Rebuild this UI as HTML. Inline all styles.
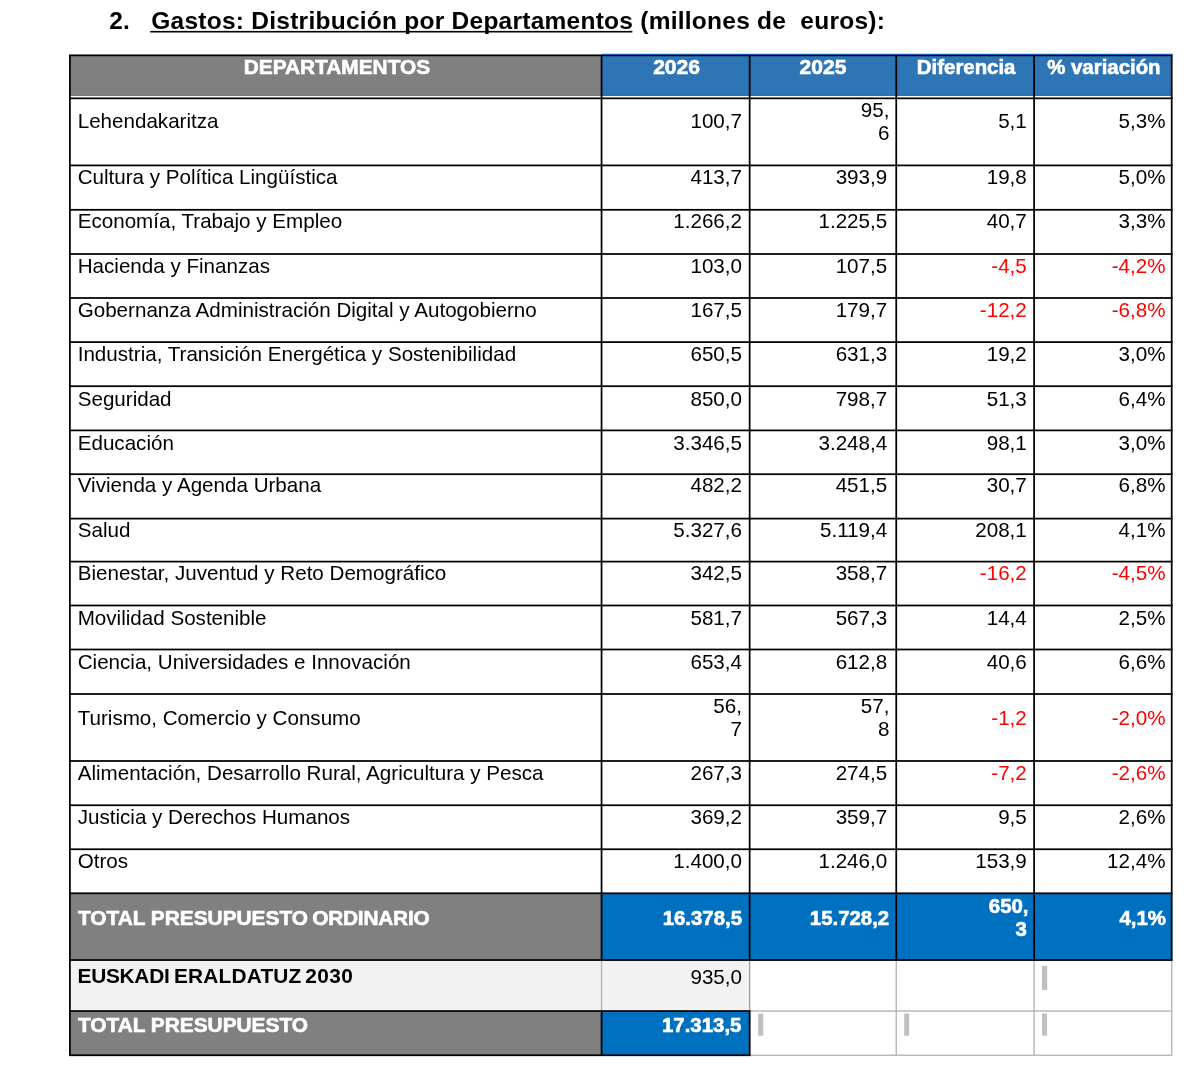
<!DOCTYPE html>
<html lang="es"><head><meta charset="utf-8"><title>Gastos: Distribución por Departamentos</title>
<style>html,body{margin:0;padding:0;background:#fff}svg{display:block;will-change:transform}text{white-space:pre;font-family:"Liberation Sans",sans-serif;font-size:20.6px;fill:#000}.b{font-weight:bold;font-size:20.85px}.n{font-size:20.4px}.y{font-size:21.1px}.w{fill:#fff;stroke:#fff;stroke-width:.6px}.r{fill:#f00}.e{text-anchor:end}.m{text-anchor:middle}.t{font-size:24.5px;font-weight:bold;letter-spacing:.25px}</style></head><body>
<svg width="1200" height="1068" viewBox="0 0 1200 1068">
<rect width="1200" height="1068" fill="#fff"/>
<rect x="69.90" y="55.35" width="531.65" height="40.50" fill="#5e5e5e"/>
<rect x="69.90" y="55.35" width="531.65" height="39.75" fill="#808080"/>
<rect x="601.55" y="54.00" width="570.15" height="1.35" fill="#1f6fc0"/>
<rect x="601.55" y="55.35" width="570.15" height="40.50" fill="#0d52b0"/>
<rect x="601.55" y="55.35" width="570.15" height="39.55" fill="#2e75b6"/>
<rect x="69.90" y="893.30" width="531.65" height="66.75" fill="#808080"/>
<rect x="601.55" y="893.30" width="570.15" height="66.75" fill="#0070c0"/>
<rect x="69.90" y="960.05" width="679.75" height="51.00" fill="#f2f2f2"/>
<rect x="69.90" y="1011.05" width="531.65" height="44.20" fill="#808080"/>
<rect x="601.55" y="1011.05" width="148.10" height="44.20" fill="#0070c0"/>
<rect x="748.98" y="960.05" width="1.35" height="95.20" fill="#a0a0a0"/>
<rect x="895.58" y="960.05" width="1.35" height="95.20" fill="#b4b4b4"/>
<rect x="1033.42" y="960.05" width="1.35" height="95.20" fill="#b4b4b4"/>
<rect x="1171.03" y="960.05" width="1.35" height="95.20" fill="#b4b4b4"/>
<rect x="600.88" y="960.05" width="1.35" height="51.00" fill="#b4b4b4"/>
<rect x="749.65" y="1010.38" width="422.65" height="1.35" fill="#b4b4b4"/>
<rect x="749.65" y="1054.58" width="422.65" height="1.35" fill="#b4b4b4"/>
<rect x="1042.00" y="965.90" width="5.20" height="24.00" fill="#bfbfbf"/>
<rect x="758.20" y="1013.60" width="5.00" height="22.10" fill="#bfbfbf"/>
<rect x="904.20" y="1013.60" width="5.00" height="22.10" fill="#bfbfbf"/>
<rect x="1042.00" y="1013.60" width="5.00" height="22.10" fill="#bfbfbf"/>
<rect x="69.03" y="54.48" width="1103.55" height="1.75" fill="#000"/>
<rect x="601.85" y="53.80" width="570.73" height="1.20" fill="#0d5cb6"/>
<rect x="69.03" y="97.47" width="1103.55" height="1.75" fill="#000"/>
<rect x="69.03" y="164.53" width="1103.55" height="1.75" fill="#000"/>
<rect x="69.03" y="208.93" width="1103.55" height="1.75" fill="#000"/>
<rect x="69.03" y="253.12" width="1103.55" height="1.75" fill="#000"/>
<rect x="69.03" y="297.12" width="1103.55" height="1.75" fill="#000"/>
<rect x="69.03" y="341.23" width="1103.55" height="1.75" fill="#000"/>
<rect x="69.03" y="385.32" width="1103.55" height="1.75" fill="#000"/>
<rect x="69.03" y="429.52" width="1103.55" height="1.75" fill="#000"/>
<rect x="69.03" y="473.32" width="1103.55" height="1.75" fill="#000"/>
<rect x="69.03" y="517.73" width="1103.55" height="1.75" fill="#000"/>
<rect x="69.03" y="560.73" width="1103.55" height="1.75" fill="#000"/>
<rect x="69.03" y="604.62" width="1103.55" height="1.75" fill="#000"/>
<rect x="69.03" y="648.62" width="1103.55" height="1.75" fill="#000"/>
<rect x="69.03" y="693.12" width="1103.55" height="1.75" fill="#000"/>
<rect x="69.03" y="760.12" width="1103.55" height="1.75" fill="#000"/>
<rect x="69.03" y="804.38" width="1103.55" height="1.75" fill="#000"/>
<rect x="69.03" y="848.38" width="1103.55" height="1.75" fill="#000"/>
<rect x="69.03" y="892.42" width="1103.55" height="1.75" fill="#000"/>
<rect x="69.03" y="959.17" width="1103.55" height="1.75" fill="#000"/>
<rect x="69.03" y="1010.17" width="681.50" height="1.75" fill="#000"/>
<rect x="69.03" y="1054.38" width="681.50" height="1.75" fill="#000"/>
<rect x="69.03" y="55.35" width="1.75" height="999.90" fill="#000"/>
<rect x="600.67" y="55.35" width="1.75" height="904.70" fill="#000"/>
<rect x="600.67" y="1011.05" width="1.75" height="44.20" fill="#000"/>
<rect x="748.77" y="55.35" width="1.75" height="904.70" fill="#000"/>
<rect x="748.77" y="1011.05" width="1.75" height="44.20" fill="#000"/>
<rect x="895.38" y="55.35" width="1.75" height="904.70" fill="#000"/>
<rect x="1033.22" y="55.35" width="1.75" height="904.70" fill="#000"/>
<rect x="1170.83" y="55.35" width="1.75" height="904.70" fill="#000"/>
<text x="109.20" y="29.10" class="t">2.</text>
<text x="151.3" y="29.1" class="t">Gastos: Distribución por Departamentos (millones de  euros):</text>
<rect x="150.20" y="30.90" width="482.20" height="1.60" fill="#000"/>
<text x="336.92" y="73.50" class="b w m">DEPARTAMENTOS</text>
<text x="676.60" y="73.50" class="b w m y">2026</text>
<text x="822.95" y="73.50" class="b w m y">2025</text>
<text x="966.17" y="73.50" class="b w m n">Diferencia</text>
<text x="1103.90" y="73.50" class="b w m n">% variación</text>
<text x="77.70" y="128.30">Lehendakaritza</text>
<text x="742.00" y="127.85" class="e">100,7</text>
<text x="889.40" y="117.35" class="e">95,</text>
<text x="889.40" y="140.35" class="e">6</text>
<text x="1026.80" y="127.85" class="e">5,1</text>
<text x="1165.50" y="127.85" class="e">5,3%</text>
<text x="77.70" y="184.30">Cultura y Política Lingüística</text>
<text x="742.00" y="184.30" class="e">413,7</text>
<text x="887.20" y="184.30" class="e">393,9</text>
<text x="1026.80" y="184.30" class="e">19,8</text>
<text x="1165.50" y="184.30" class="e">5,0%</text>
<text x="77.70" y="228.30">Economía, Trabajo y Empleo</text>
<text x="742.00" y="228.30" class="e">1.266,2</text>
<text x="887.20" y="228.30" class="e">1.225,5</text>
<text x="1026.80" y="228.30" class="e">40,7</text>
<text x="1165.50" y="228.30" class="e">3,3%</text>
<text x="77.70" y="272.90">Hacienda y Finanzas</text>
<text x="742.00" y="272.90" class="e">103,0</text>
<text x="887.20" y="272.90" class="e">107,5</text>
<text x="1026.80" y="272.90" class="e r">-4,5</text>
<text x="1165.50" y="272.90" class="e r">-4,2%</text>
<text x="77.70" y="316.90">Gobernanza Administración Digital y Autogobierno</text>
<text x="742.00" y="316.90" class="e">167,5</text>
<text x="887.20" y="316.90" class="e">179,7</text>
<text x="1026.80" y="316.90" class="e r">-12,2</text>
<text x="1165.50" y="316.90" class="e r">-6,8%</text>
<text x="77.70" y="361.40">Industria, Transición Energética y Sostenibilidad</text>
<text x="742.00" y="361.40" class="e">650,5</text>
<text x="887.20" y="361.40" class="e">631,3</text>
<text x="1026.80" y="361.40" class="e">19,2</text>
<text x="1165.50" y="361.40" class="e">3,0%</text>
<text x="77.70" y="405.70">Seguridad</text>
<text x="742.00" y="405.70" class="e">850,0</text>
<text x="887.20" y="405.70" class="e">798,7</text>
<text x="1026.80" y="405.70" class="e">51,3</text>
<text x="1165.50" y="405.70" class="e">6,4%</text>
<text x="77.70" y="449.90">Educación</text>
<text x="742.00" y="449.90" class="e">3.346,5</text>
<text x="887.20" y="449.90" class="e">3.248,4</text>
<text x="1026.80" y="449.90" class="e">98,1</text>
<text x="1165.50" y="449.90" class="e">3,0%</text>
<text x="77.70" y="492.30">Vivienda y Agenda Urbana</text>
<text x="742.00" y="492.30" class="e">482,2</text>
<text x="887.20" y="492.30" class="e">451,5</text>
<text x="1026.80" y="492.30" class="e">30,7</text>
<text x="1165.50" y="492.30" class="e">6,8%</text>
<text x="77.70" y="536.60">Salud</text>
<text x="742.00" y="536.60" class="e">5.327,6</text>
<text x="887.20" y="536.60" class="e">5.119,4</text>
<text x="1026.80" y="536.60" class="e">208,1</text>
<text x="1165.50" y="536.60" class="e">4,1%</text>
<text x="77.70" y="579.85">Bienestar, Juventud y Reto Demográfico</text>
<text x="742.00" y="579.85" class="e">342,5</text>
<text x="887.20" y="579.85" class="e">358,7</text>
<text x="1026.80" y="579.85" class="e r">-16,2</text>
<text x="1165.50" y="579.85" class="e r">-4,5%</text>
<text x="77.70" y="624.80">Movilidad Sostenible</text>
<text x="742.00" y="624.80" class="e">581,7</text>
<text x="887.20" y="624.80" class="e">567,3</text>
<text x="1026.80" y="624.80" class="e">14,4</text>
<text x="1165.50" y="624.80" class="e">2,5%</text>
<text x="77.70" y="668.80">Ciencia, Universidades e Innovación</text>
<text x="742.00" y="668.80" class="e">653,4</text>
<text x="887.20" y="668.80" class="e">612,8</text>
<text x="1026.80" y="668.80" class="e">40,6</text>
<text x="1165.50" y="668.80" class="e">6,6%</text>
<text x="77.70" y="725.30">Turismo, Comercio y Consumo</text>
<text x="742.00" y="713.00" class="e">56,</text>
<text x="742.00" y="736.00" class="e">7</text>
<text x="889.40" y="713.00" class="e">57,</text>
<text x="889.40" y="736.00" class="e">8</text>
<text x="1026.80" y="725.20" class="e r">-1,2</text>
<text x="1165.50" y="725.20" class="e r">-2,0%</text>
<text x="77.70" y="779.90">Alimentación, Desarrollo Rural, Agricultura y Pesca</text>
<text x="742.00" y="779.90" class="e">267,3</text>
<text x="887.20" y="779.90" class="e">274,5</text>
<text x="1026.80" y="779.90" class="e r">-7,2</text>
<text x="1165.50" y="779.90" class="e r">-2,6%</text>
<text x="77.70" y="824.15">Justicia y Derechos Humanos</text>
<text x="742.00" y="824.15" class="e">369,2</text>
<text x="887.20" y="824.15" class="e">359,7</text>
<text x="1026.80" y="824.15" class="e">9,5</text>
<text x="1165.50" y="824.15" class="e">2,6%</text>
<text x="77.70" y="868.15">Otros</text>
<text x="742.00" y="868.15" class="e">1.400,0</text>
<text x="887.20" y="868.15" class="e">1.246,0</text>
<text x="1026.80" y="868.15" class="e">153,9</text>
<text x="1165.50" y="868.15" class="e">12,4%</text>
<text x="77.90" y="924.80" class="b w">TOTAL PRESUPUESTO <tspan x="312.2" letter-spacing="-0.22">ORDINARIO</tspan></text>
<text x="742.00" y="925.30" class="b w e n">16.378,5</text>
<text x="889.20" y="925.30" class="b w e n">15.728,2</text>
<text x="1028.50" y="912.70" class="b w e n">650,</text>
<text x="1026.80" y="936.30" class="b w e n">3</text>
<text x="1166.00" y="925.10" class="b w e n">4,1%</text>
<text x="77.50" y="982.95" class="b"><tspan letter-spacing="-0.26">EUSKADI</tspan> <tspan x="173.9" letter-spacing="0.2">ERALDATUZ</tspan> <tspan x="305.3" letter-spacing="0.4">2030</tspan></text>
<text x="742.00" y="983.55" class="e">935,0</text>
<text x="77.90" y="1031.75" class="b w">TOTAL PRESUPUESTO</text>
<text x="741.40" y="1031.95" class="b w e n">17.313,5</text>
</svg></body></html>
